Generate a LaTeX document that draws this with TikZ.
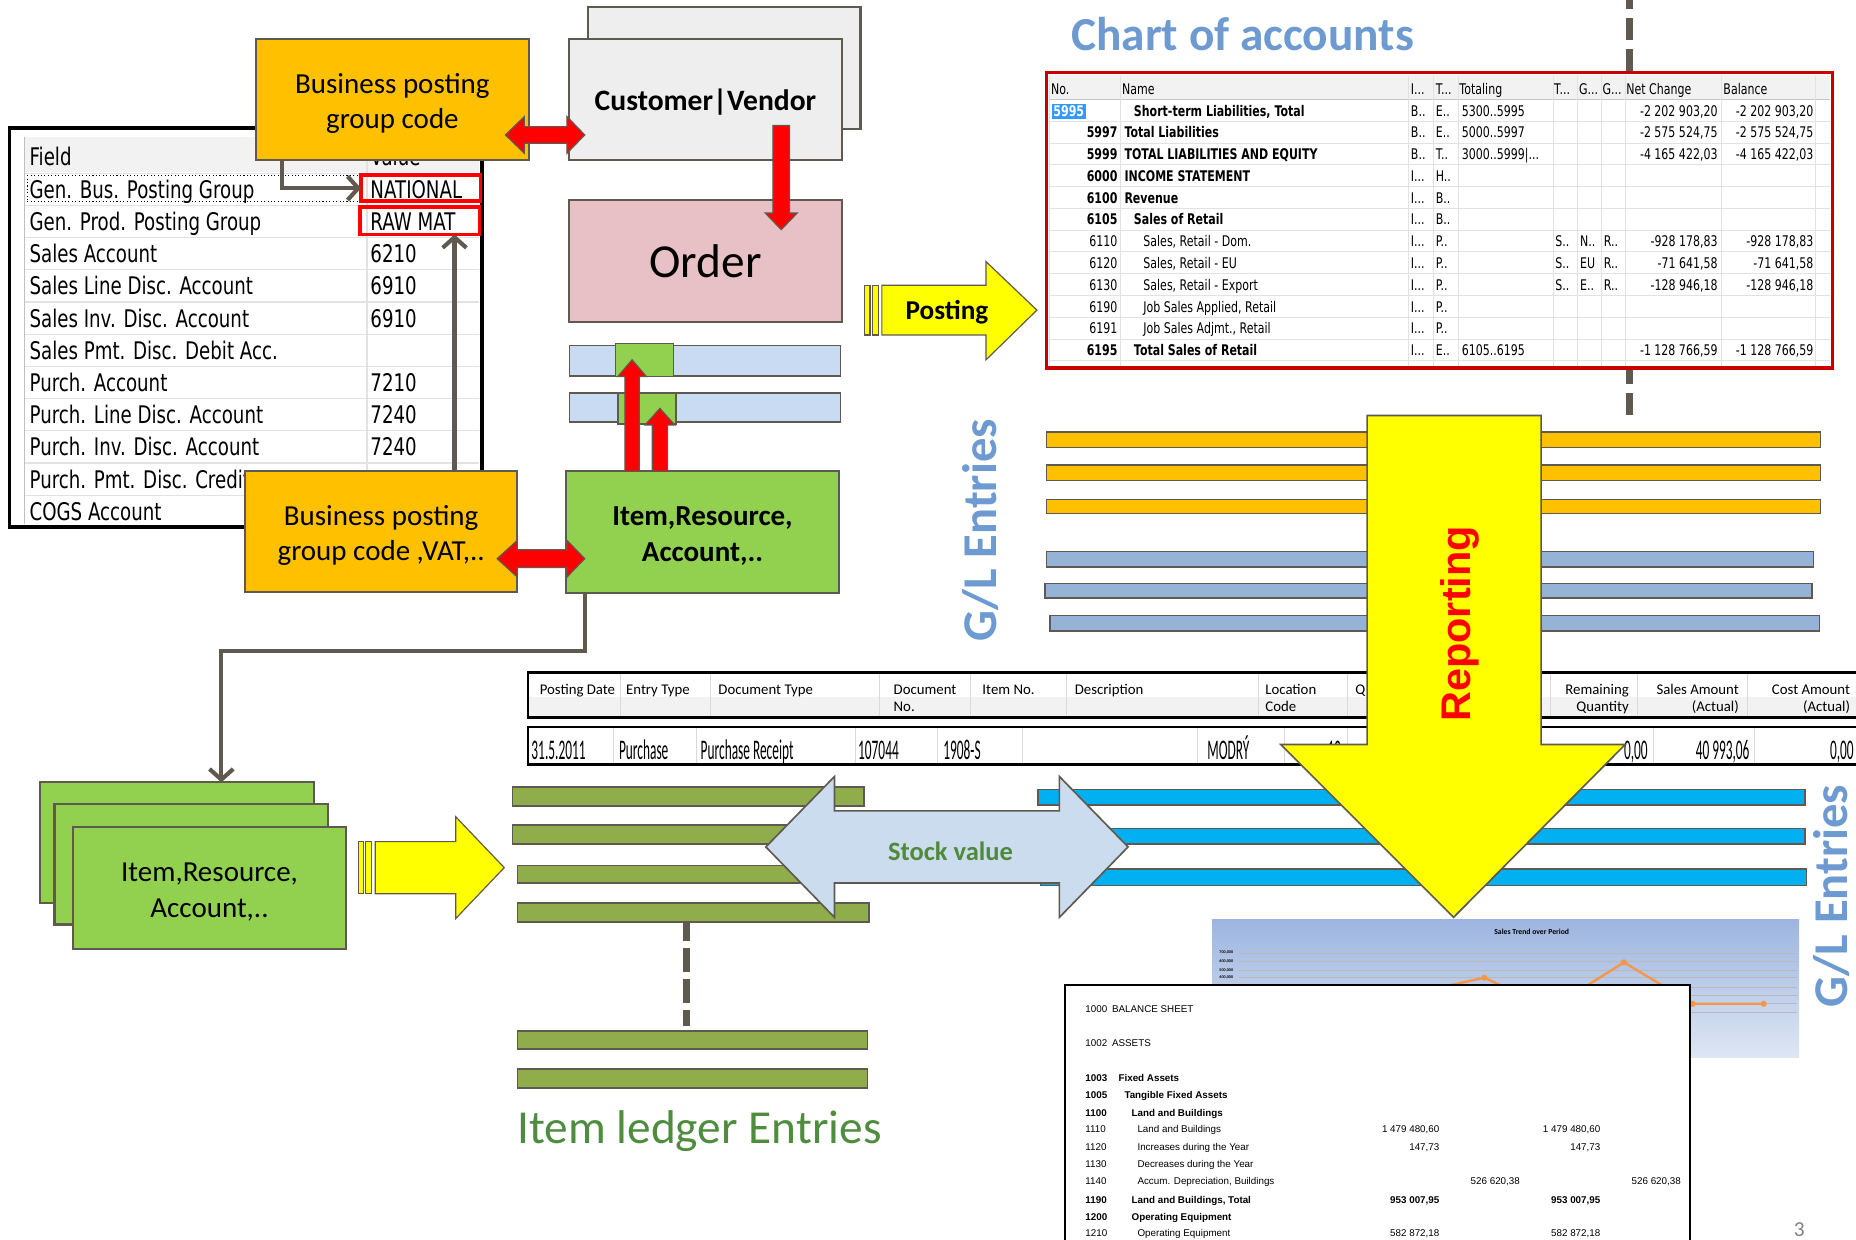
\documentclass[tikz,border=0pt]{standalone}
\usepackage{fontspec}
\setmainfont{Carlito}
\newfontfamily\tahn[FakeStretch=0.75]{DejaVu Sans}
\newfontfamily\arf{Liberation Sans}
\newfontfamily\narf[FakeStretch=0.47]{Carlito}
\usetikzlibrary{arrows.meta}
\definecolor{bord}{RGB}{96,89,79}
\definecolor{org}{RGB}{255,192,0}
\definecolor{grn}{RGB}{146,208,80}
\definecolor{olv}{RGB}{143,173,74}
\definecolor{bgr}{RGB}{149,179,215}
\definecolor{cyn}{RGB}{0,176,240}
\definecolor{ylw}{RGB}{255,255,0}
\definecolor{rd}{RGB}{255,0,0}
\definecolor{dred}{RGB}{200,0,0}
\definecolor{pnk}{RGB}{231,193,197}
\definecolor{lgr}{RGB}{238,238,238}
\definecolor{lblu}{RGB}{201,219,242}
\definecolor{stk}{RGB}{204,220,239}
\definecolor{ttl}{RGB}{110,154,210}
\definecolor{ilg}{RGB}{79,141,62}
\definecolor{stkt}{RGB}{79,138,58}
\definecolor{gline}{RGB}{226,226,226}
\definecolor{hdr}{RGB}{242,242,242}
\definecolor{hilite}{RGB}{51,153,255}
\definecolor{orl}{RGB}{247,150,70}
\definecolor{chtop}{RGB}{157,181,224}
\definecolor{chbot}{RGB}{222,230,243}
\newcommand\myfs[2]{\fontsize{#1}{#2}\selectfont}
\newcommand\frow[4]{\node[ft] (fl#1) at (25,#2) {#3}; \node[ft] (fv#1) at (313,#2) {#4};}
\newcommand\coait[4]{\node[coa] (ci#1) at (1192,#2) {#3}; \node[coa] (ct#1) at (1213,#2) {#4};}
\newcommand\coaval[3]{\node[coa,anchor=base east] (cn#1) at (1451,#2) {#3}; \node[coa,anchor=base east] (cb#1) at (1532,#2) {#3};}
\newcommand\bsl[5]{\node[#1] (bn#2) at (917,#3) {#2}; \node[#1] (bt#2) at (#4,#3) {#5};}
\begin{document}
\begin{tikzpicture}[x=1pt,y=-1pt,
  box/.style={draw=bord, line width=1.8pt, inner sep=0pt, outer sep=0pt, align=center},
  btxt/.style={inner sep=0pt, outer sep=0pt, align=center},
  bar/.style={draw=bord, line width=1.3pt},
  blk/.style={draw=bord, line width=1pt, line join=miter},
  conn/.style={draw=bord, line width=3.5pt, -{Straight Barb[length=9pt,width=20pt]}},
  dashl/.style={draw=bord, line width=6pt, dash pattern=on 19pt off 7pt},
  txt/.style={inner sep=0pt, outer sep=0pt},
  ft/.style={txt, font=\tahn\myfs{20.5}{22}, anchor=base west},
  coa/.style={txt, font=\tahn\myfs{12.4}{14}, anchor=base west},
  coab/.style={coa, font=\tahn\bfseries\myfs{12.4}{14}},
  lh/.style={txt, font=\myfs{12.5}{14}, anchor=base west},
  lhr/.style={lh, anchor=base east},
  ld/.style={txt, font=\narf\myfs{24}{26}, anchor=base west},
  ldr/.style={ld, anchor=base east},
  bs/.style={txt, font=\arf\myfs{8.3}{10}, anchor=base west},
  bsb/.style={bs, font=\arf\bfseries\myfs{8.3}{10}},
]
\useasboundingbox (0,0) rectangle (1568,1047);
\fill[white] (0,0) rectangle (1568,1047);

% ---------- dashed line top right
\draw[dashl] (1377,-11) -- (1377,61);
\draw[dashl, dash pattern=on 19pt off 8pt] (1377,305) -- (1377,351);

% ---------- chart of accounts table
\node[txt, fill=white, minimum width=664pt, minimum height=250pt] (coa) at (1216,186) {};
\fill[hdr] (886,63) rectangle (1546,84);
\draw[gray!45, line width=0.8pt] (886,84) -- (1546,84);
\foreach \k in {1,...,12} \draw[gline, line width=0.8pt] (886,{84+18.4*\k}) -- (1546,{84+18.4*\k});
\foreach \x in {887,947,1190,1211,1232,1312,1333,1353,1373,1454,1534} \draw[gline, line width=0.8pt] (\x,64) -- (\x,310);
\node[coa] (hNo) at (888,79.5) {No.};
\node[coa] (hName) at (948,79.5) {Name};
\node[coa] (hI) at (1192,79.5) {I...};
\node[coa] (hT) at (1213,79.5) {T...};
\node[coa] (hTot) at (1233,79.5) {Totaling};
\node[coa] (hT2) at (1313,79.5) {T...};
\node[coa] (hG1) at (1334,79.5) {G...};
\node[coa] (hG2) at (1354,79.5) {G...};
\node[coa] (hNet) at (1374,79.5) {Net Change};
\node[coa] (hBal) at (1456,79.5) {Balance};
\fill[hilite] (889,87.5) rectangle (917.5,100.5);
\node[coab, text=white] (no5995) at (890,98) {5995};
\node[coab, anchor=base east] (no5997) at (944,116.4) {5997};
\node[coab, anchor=base east] (no5999) at (944,134.8) {5999};
\node[coab, anchor=base east] (no6000) at (944,153.2) {6000};
\node[coab, anchor=base east] (no6100) at (944,171.6) {6100};
\node[coab, anchor=base east] (no6105) at (944,190) {6105};
\node[coa, anchor=base east] (no6110) at (944,208.4) {6110};
\node[coa, anchor=base east] (no6120) at (944,226.8) {6120};
\node[coa, anchor=base east] (no6130) at (944,245.2) {6130};
\node[coa, anchor=base east] (no6190) at (944,263.6) {6190};
\node[coa, anchor=base east] (no6191) at (944,282) {6191};
\node[coab, anchor=base east] (no6195) at (944,300.4) {6195};
\node[coab] (nm1) at (958,98) {Short-term Liabilities, Total};
\node[coab] (nm2) at (950,116.4) {Total Liabilities};
\node[coab] (nm3) at (950,134.8) {TOTAL LIABILITIES AND EQUITY};
\node[coab] (nm4) at (950,153.2) {INCOME STATEMENT};
\node[coab] (nm5) at (950,171.6) {Revenue};
\node[coab] (nm6) at (958,190) {Sales of Retail};
\node[coa] (nm7) at (966,208.4) {Sales, Retail - Dom.};
\node[coa] (nm8) at (966,226.8) {Sales, Retail - EU};
\node[coa] (nm9) at (966,245.2) {Sales, Retail - Export};
\node[coa] (nm10) at (966,263.6) {Job Sales Applied, Retail};
\node[coa] (nm11) at (966,282) {Job Sales Adjmt., Retail};
\node[coab] (nm12) at (958,300.4) {Total Sales of Retail};
\coait{1}{98}{B..}{E..}
\coait{2}{116.4}{B..}{E..}
\coait{3}{134.8}{B..}{T..}
\coait{4}{153.2}{I...}{H..}
\coait{5}{171.6}{I...}{B..}
\coait{6}{190}{I...}{B..}
\coait{7}{208.4}{I...}{P..}
\coait{8}{226.8}{I...}{P..}
\coait{9}{245.2}{I...}{P..}
\coait{10}{263.6}{I...}{P..}
\coait{11}{282}{I...}{P..}
\coait{12}{300.4}{I...}{E..}
\node[coa] (tot1) at (1235,98) {5300..5995};
\node[coa] (tot2) at (1235,116.4) {5000..5997};
\node[coa] (tot3) at (1235,134.8) {3000..5999|...};
\node[coa] (tot12) at (1235,300.4) {6105..6195};
\node[coa] (tg7a) at (1314,208.4) {S..};
\node[coa] (tg7b) at (1335,208.4) {N..};
\node[coa] (tg7c) at (1355,208.4) {R..};
\node[coa] (tg8a) at (1314,226.8) {S..};
\node[coa] (tg8b) at (1335,226.8) {EU};
\node[coa] (tg8c) at (1355,226.8) {R..};
\node[coa] (tg9a) at (1314,245.2) {S..};
\node[coa] (tg9b) at (1335,245.2) {E..};
\node[coa] (tg9c) at (1355,245.2) {R..};
\coaval{1}{98}{-2 202 903,20}
\coaval{2}{116.4}{-2 575 524,75}
\coaval{3}{134.8}{-4 165 422,03}
\coaval{7}{208.4}{-928 178,83}
\coaval{8}{226.8}{-71 641,58}
\coaval{9}{245.2}{-128 946,18}
\coaval{12}{300.4}{-1 128 766,59}
\draw[dred, line width=2.8pt] (coa.north west) rectangle (coa.south east);
\node[txt, anchor=base west, text=ttl, font=\bfseries\myfs{40}{44}] (coaTitle) at (905,43) {Chart of accounts};

% ---------- field table
\node[txt, fill=white, draw=black, line width=3.2pt, minimum width=399pt, minimum height=337pt] (fieldtab) at (207.5,276.5) {};
\fill[hdr] (21,116) rectangle (405,145);
\draw[gray!50, line width=0.8pt] (21,116) -- (21,443);
\foreach \k in {0,...,10} \draw[gline, line width=1pt] (21,{146.4+27.2*\k}) -- (405,{146.4+27.2*\k});
\draw[gline, line width=1pt] (310,116) -- (310,443);
\draw[dotted, line width=0.9pt] (23,148) -- (305,148) (23,170) -- (305,170) (23,148) -- (23,170);
\node[ft] (fhdr1) at (25,139.5) {Field};
\node[ft] (fhdr2) at (313,139.5) {Value};
\frow{1}{167.5}{Gen. Bus. Posting Group}{NATIONAL}
\frow{2}{194.7}{Gen. Prod. Posting Group}{RAW MAT}
\frow{3}{221.9}{Sales Account}{6210}
\frow{4}{249.1}{Sales Line Disc. Account}{6910}
\frow{5}{276.3}{Sales Inv. Disc. Account}{6910}
\frow{6}{303.5}{Sales Pmt. Disc. Debit Acc.}{}
\frow{7}{330.7}{Purch. Account}{7210}
\frow{8}{357.9}{Purch. Line Disc. Account}{7240}
\frow{9}{385.1}{Purch. Inv. Disc. Account}{7240}
\frow{10}{412.3}{Purch. Pmt. Disc. Credit Acc.}{}
\frow{11}{439.5}{COGS Account}{}
\node[txt, draw=rd, line width=3pt, minimum width=101pt, minimum height=22pt] (natbox) at (355.5,159) {};
\node[txt, draw=rd, line width=3pt, minimum width=101pt, minimum height=23pt] (rawbox) at (354.5,186.5) {};

% ---------- top boxes
\node[box, fill=org, minimum width=231pt, minimum height=102pt] (bizcode) at (331.5,84) {};
\node[btxt, font=\myfs{24.5}{30}] (bizcodeT) at ([yshift=-3.5pt]bizcode.center) {Business posting\\group code};
\node[box, fill=lgr, minimum width=230pt, minimum height=103pt] (custback) at (612,57.5) {};
\node[box, fill=lgr, minimum width=230pt, minimum height=102pt] (custfront) at (596,84) {};
\node[btxt, font=\bfseries\myfs{25}{30}] (custfrontT) at ([yshift=-2pt]custfront.center) {Customer|Vendor};
\node[box, fill=pnk, minimum width=230pt, minimum height=103pt, font=\myfs{40}{44}] (order) at (596,220.5) {Order};
\draw[blk, fill=rd] (427,114) -- (443,98.5) -- (443,107) -- (479,107) -- (479,98.5) -- (494,114) -- (479,129.5) -- (479,121) -- (443,121) -- (443,129.5) -- cycle;
\draw[blk, fill=rd] (653,106) -- (667,106) -- (667,180) -- (673.5,180) -- (660,194) -- (646.5,180) -- (653,180) -- cycle;

% posting arrow
\draw[blk, fill=ylw] (730,241) rectangle (735,283);
\draw[blk, fill=ylw] (737,241) rectangle (742,283);
\draw[blk, fill=ylw] (745,241) -- (833,241) -- (833,221) -- (876,262) -- (833,304) -- (833,283) -- (745,283) -- cycle;
\node[txt, font=\bfseries\myfs{23}{26}] (post) at (800,264) {Posting};

% light blue bars with green squares
\draw[bar, fill=lblu] (481,292) rectangle (710,317.5);
\draw[bar, fill=lblu] (481,332) rectangle (710,356.5);
\draw[bar, fill=grn] (520,290) rectangle (569,318);
\draw[bar, fill=grn] (522,332) rectangle (571,358);

% item box and red up arrows
\node[box, fill=grn, minimum width=231pt, minimum height=103pt] (itemres) at (593.5,449.5) {};
\node[btxt, font=\bfseries\myfs{24.5}{30}] (itemresT) at ([yshift=-3.5pt]itemres.center) {Item,Resource,\\Account,..};
\draw[blk, fill=rd] (528,398) -- (528,318) -- (522,318) -- (534,304) -- (546,318) -- (540,318) -- (540,398) -- cycle;
\draw[blk, fill=rd] (551,398) -- (551,359) -- (545,359) -- (557.5,345) -- (570,359) -- (564,359) -- (564,398) -- cycle;

% orange box 2
\node[box, fill=org, minimum width=230pt, minimum height=102pt] (bizvat) at (322,449) {};
\node[btxt, font=\myfs{24.5}{30}] (bizvatT) at ([yshift=-3.5pt]bizvat.center) {Business posting\\group code ,VAT,..};
\draw[blk, fill=rd] (420,472) -- (437,456.5) -- (437,464.5) -- (479,464.5) -- (479,456.5) -- (494,472) -- (479,487.5) -- (479,479.5) -- (437,479.5) -- (437,487.5) -- cycle;

% brown connectors
\coordinate (cx1) at (238,0);
\coordinate (cx2) at (384,0);
\coordinate (cx3) at (494,550);
\coordinate (cx4) at (187,550);
\draw[conn] (bizcode.south -| cx1) |- (natbox.west);
\draw[conn] (bizvat.north -| cx2) -- (rawbox.south -| cx2);

% ---------- G/L bars top right
\foreach \a/\b/\c/\d in {884/365/1538/378, 884/393/1538/406, 884/422/1538/434} \draw[bar, fill=org] (\a,\b) rectangle (\c,\d);
\foreach \a/\b/\c/\d in {884/466/1532/479, 883/493/1531/505, 887/520/1537/533} \draw[bar, fill=bgr] (\a,\b) rectangle (\c,\d);
\node[txt, rotate=90, text=ttl, font=\bfseries\myfs{41}{44}] (gl1) at (828,448) {G/L Entries};

% ---------- lower left
\draw[dashl, dash pattern=on 20pt off 6pt] (580,775) -- (580,867);
\foreach \a/\b/\c/\d in {433/665/730/681, 433/697/732/713, 437/731/734/746, 437/763/734/779, 437/871/733/886, 437/903/733/919} \draw[bar, fill=olv] (\a,\b) rectangle (\c,\d);
\foreach \a/\b/\c/\d in {877/667/1525/680, 877/700/1525/713, 879/734/1526/748} \draw[bar, fill=cyn] (\a,\b) rectangle (\c,\d);
\node[box, fill=grn, minimum width=231pt, minimum height=102pt] (stack1) at (149.5,712) {};
\node[box, fill=grn, minimum width=231pt, minimum height=102pt] (stack2) at (161.5,730) {};
\node[box, fill=grn, minimum width=230pt, minimum height=103pt] (stack3) at (177,750.5) {};
\node[btxt, font=\myfs{24.5}{30}] (stack3T) at ([yshift=-3pt]stack3.center) {Item,Resource,\\Account,..};
\draw[conn] (itemres.south -| cx3) |- (cx4) -- (cx4 |- stack1.north);
\draw[blk, fill=ylw] (303,711) rectangle (307,755);
\draw[blk, fill=ylw] (309,711) rectangle (314,755);
\draw[blk, fill=ylw] (317,711) -- (385,711) -- (385,690) -- (426,733) -- (385,776) -- (385,755) -- (317,755) -- cycle;
\draw[blk, line width=1.4pt, fill=stk] (647,715.5) -- (705,656) -- (705,685) -- (895,685) -- (895,656) -- (953,715.5) -- (895,775) -- (895,746) -- (705,746) -- (705,775) -- cycle;
\node[txt, text=stkt, font=\bfseries\myfs{22.4}{26}] (stkv) at (803,719.5) {Stock value};

% ---------- ledger table
\fill[white] (446,568) rectangle (1580,606);
\fill[hdr] (446,589) rectangle (1580,606);
\foreach \x in {524,600,743,820,901,1063,1138,1310,1383,1476} \draw[gray!30, line width=0.8pt] (\x,569) -- (\x,605);
\draw[black, line width=2pt] (446,568) rectangle (1580,606);
\node[lh] (lh1) at (456,587) {Posting Date};
\node[lh] (lh2) at (529,587) {Entry Type};
\node[lh] (lh3) at (607,587) {Document Type};
\node[lh] (lh4a) at (755,587) {Document};
\node[lh] (lh4b) at (755,601) {No.};
\node[lh] (lh5) at (830,587) {Item No.};
\node[lh] (lh6) at (908,587) {Description};
\node[lh] (lh7a) at (1069,587) {Location};
\node[lh] (lh7b) at (1069,601) {Code};
\node[lh] (lh8) at (1145,587) {Q};
\node[lhr] (lh9a) at (1376,587) {Remaining};
\node[lhr] (lh9b) at (1376,601) {Quantity};
\node[lhr] (lh10a) at (1469,587) {Sales Amount};
\node[lhr] (lh10b) at (1469,601) {(Actual)};
\node[lhr] (lh11a) at (1563,587) {Cost Amount};
\node[lhr] (lh11b) at (1563,601) {(Actual)};
\fill[white] (446,614) rectangle (1580,646);
\foreach \x in {518,588,723,792,864,1012,1085,1138,1397,1482} \draw[gray!30, line width=0.8pt] (\x,615) -- (\x,645);
\draw[black, line width=2pt] (446,614) rectangle (1580,646);
\node[ld] (ld1) at (449,642) {31.5.2011};
\node[ld] (ld2) at (523,642) {Purchase};
\node[ld] (ld3) at (592,642) {Purchase Receipt};
\node[ld] (ld4) at (725,642) {107044};
\node[ld] (ld5) at (797,642) {1908-S};
\node[ld] (ld6) at (1020,642) {MODRÝ};
\node[ldr] (ld7) at (1133,642) {10};
\node[ldr] (ld8) at (1392,642) {0,00};
\node[ldr] (ld9) at (1478,642) {40 993,06};
\node[ldr] (ld10) at (1566,642) {0,00};

% ---------- reporting arrow
\draw[blk, line width=1.4pt, fill=ylw] (1155,351) -- (1302,351) -- (1302,629) -- (1373,629) -- (1228,775) -- (1082,629) -- (1155,629) -- cycle;
\node[txt, rotate=90, text=rd, font=\arf\bfseries\myfs{35}{38}] (rep) at (1233,527) {Reporting};

% ---------- sales trend chart
\shade[top color=chtop, bottom color=chbot] (1024,777) rectangle (1520,893);
\foreach \y in {805,812,820,826,834,841,848,855} \draw[gray!55, line width=0.6pt] (1047,\y) -- (1518,\y);
\node[txt, font=\bfseries\myfs{6.5}{7}] (strend) at (1294,787) {Sales Trend over Period};
\node[txt, font=\bfseries\myfs{3.5}{4}] (ya1) at (1036,805) {700,000};
\node[txt, font=\bfseries\myfs{3.5}{4}] (ya2) at (1036,812) {600,000};
\node[txt, font=\bfseries\myfs{3.5}{4}] (ya3) at (1036,820) {500,000};
\node[txt, font=\bfseries\myfs{3.5}{4}] (ya4) at (1036,826) {400,000};
\draw[orl, line width=2pt, line join=round] (1060,852) -- (1130,846) -- (1190,840) -- (1254,826) -- (1310,852) -- (1372,813) -- (1430,848) -- (1490,848);
\foreach \p in {(1254,826),(1372,813),(1430,848),(1490,848)} \fill[orl] \p circle (2.6);

% ---------- balance sheet
\node[txt, fill=white, draw=black, line width=1.5pt, minimum width=528pt, minimum height=230pt] (bsheet) at (1164,947) {};
\bsl{bs}{1000}{855}{939.5}{BALANCE SHEET}
\bsl{bs}{1002}{884}{939.5}{ASSETS}
\bsl{bsb}{1003}{914}{945}{Fixed Assets}
\bsl{bsb}{1005}{928}{950}{Tangible Fixed Assets}
\bsl{bsb}{1100}{943}{956}{Land and Buildings}
\bsl{bs}{1110}{957}{961}{Land and Buildings}
\bsl{bs}{1120}{972}{961}{Increases during the Year}
\bsl{bs}{1130}{986}{961}{Decreases during the Year}
\bsl{bs}{1140}{1001}{961}{Accum. Depreciation, Buildings}
\bsl{bsb}{1190}{1017}{956}{Land and Buildings, Total}
\bsl{bsb}{1200}{1031}{956}{Operating Equipment}
\bsl{bs}{1210}{1045}{961}{Operating Equipment}
\node[bs, anchor=base east] (bv1a) at (1216,957) {1 479 480,60};
\node[bs, anchor=base east] (bv1b) at (1352,957) {1 479 480,60};
\node[bs, anchor=base east] (bv2a) at (1216,972) {147,73};
\node[bs, anchor=base east] (bv2b) at (1352,972) {147,73};
\node[bs, anchor=base east] (bv3a) at (1284,1001) {526 620,38};
\node[bs, anchor=base east] (bv3b) at (1420,1001) {526 620,38};
\node[bsb, anchor=base east] (bv4a) at (1216,1017) {953 007,95};
\node[bsb, anchor=base east] (bv4b) at (1352,1017) {953 007,95};
\node[bs, anchor=base east] (bv5a) at (1216,1045) {582 872,18};
\node[bs, anchor=base east] (bv5b) at (1352,1045) {582 872,18};

% ---------- remaining labels
\node[txt, rotate=90, text=ttl, font=\bfseries\myfs{41}{44}] (gl2) at (1547,757) {G/L Entries};
\node[txt, anchor=base west, text=ilg, font=\myfs{40}{44}] (ileTitle) at (437,966) {Item ledger Entries};
\node[txt, text=gray, font=\myfs{18}{20}] (pgno) at (1520,1039) {3};
\end{tikzpicture}
\end{document}
